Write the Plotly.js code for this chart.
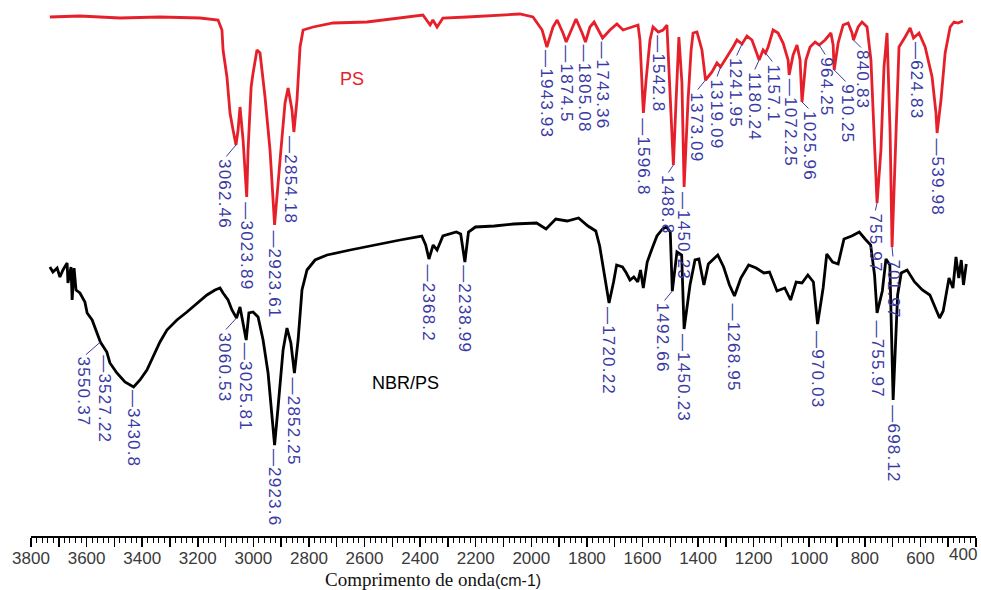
<!DOCTYPE html>
<html>
<head>
<meta charset="utf-8">
<script src="https://cdn.plot.ly/plotly-3.0.1.min.js"></script>
<style>
  html, body { margin: 0; padding: 0; background: #ffffff; }
  #chart { width: 981px; height: 590px; }
</style>
</head>
<body>
<div id="chart"></div>
<script>
// FTIR spectra (transmittance, arbitrary units, offset) of polystyrene (PS) and the NBR/PS blend

const psWavenumber = [
  3732, 3624, 3480, 3336, 3192, 3127, 3113, 3109, 3095, 3084,
  3073, 3062.46, 3055, 3048, 3037, 3023.89, 3019, 3008, 3001, 2987,
  2976, 2958, 2940, 2923.61, 2904, 2886, 2875, 2861, 2854.18, 2843,
  2832, 2821, 2785, 2713, 2591, 2472, 2390, 2364, 2354, 2339,
  2318, 2231, 2112, 2041, 1994, 1961, 1943.93, 1922, 1907, 1886,
  1874.5, 1853, 1839, 1817, 1805.08, 1789, 1774, 1753, 1743.36, 1717,
  1692, 1670, 1645, 1616, 1609, 1602, 1596.8, 1587, 1573, 1562,
  1542.8, 1526, 1512, 1508, 1497, 1488.8, 1479, 1469, 1458, 1450.23,
  1436, 1425, 1418, 1404, 1386, 1373.09, 1350, 1332, 1319.09, 1307,
  1292, 1274, 1260, 1241.95, 1224, 1206, 1184, 1180.24, 1166, 1157.1,
  1148, 1130, 1112, 1094, 1076, 1072.25, 1058, 1044, 1033, 1025.96,
  1012, 997, 979, 964.25, 943, 922, 914, 910.25, 896, 878,
  860, 846, 840.83, 824, 810, 792, 778, 767, 755.97, 742,
  731, 720, 709, 701.97, 688, 677, 655, 637, 624.83, 605,
  583, 558, 544, 539.98, 526, 511, 493, 479, 465, 447
];
const psSignal = [
  519, 520, 518, 519, 518, 516, 506, 486, 459, 423,
  406, 391, 406, 429, 396, 339, 386, 449, 463, 486,
  483, 439, 386, 311, 376, 433, 448, 426, 404, 436,
  489, 506, 509, 513, 514, 518, 521, 511, 516, 509,
  518, 519, 521, 522, 519, 506, 489, 509, 516, 503,
  494, 509, 517, 503, 494, 509, 514, 503, 498, 506,
  512, 506, 508, 511, 496, 456, 423, 456, 496, 509,
  504, 506, 511, 486, 416, 371, 436, 499, 453, 349,
  436, 486, 503, 504, 486, 456, 464, 473, 469, 474,
  481, 489, 496, 492, 500, 496, 478, 476, 486, 483,
  489, 506, 503, 493, 476, 461, 481, 491, 476, 434,
  476, 489, 494, 491, 496, 503, 491, 466, 493, 511,
  513, 503, 496, 509, 514, 509, 476, 406, 333, 386,
  469, 503, 403, 289, 403, 489, 499, 508, 498, 503,
  489, 459, 423, 403, 436, 483, 509, 514, 513, 515
];

const blendWavenumber = [
  3732, 3721, 3706, 3696, 3685, 3670, 3667, 3656, 3652, 3645,
  3638, 3624, 3606, 3598, 3580, 3570, 3550.37, 3527.22, 3516, 3491,
  3462, 3430.8, 3408, 3383, 3361, 3336, 3311, 3275, 3239, 3203,
  3167, 3138, 3120, 3109, 3091, 3077, 3060.53, 3048, 3037, 3025.81,
  3016, 3001, 2983, 2965, 2947, 2933, 2923.6, 2911, 2893, 2879,
  2865, 2852.25, 2839, 2825, 2807, 2778, 2735, 2652, 2534, 2472,
  2394, 2380, 2368.2, 2353, 2339, 2318, 2270, 2254, 2238.99, 2226,
  2201, 2133, 2064, 1981, 1947, 1912, 1871, 1830, 1796, 1768,
  1754, 1734, 1720.22, 1704, 1693, 1672, 1658, 1645, 1631, 1617,
  1607, 1597, 1583, 1566, 1548, 1528, 1514, 1500, 1492.66, 1476,
  1459, 1450.23, 1429, 1411, 1397, 1379, 1363, 1329, 1308, 1287,
  1268.95, 1246, 1218, 1191, 1163, 1143, 1116, 1088, 1067, 1047,
  1026, 1005, 985, 970.03, 950, 937, 916, 896, 875, 847,
  820, 799, 779, 765, 755.97, 737, 724, 710, 698.12, 682,
  669, 648, 621, 593, 566, 531, 518, 497, 483, 472,
  462, 453, 445, 435
];
const blendSignal = [
  269, 264, 268, 259, 266, 273, 253, 269, 236, 268,
  246, 243, 234, 223, 216, 208, 194, 184, 173, 163,
  154, 149, 156, 166, 179, 194, 206, 216, 224, 233,
  241, 246, 248, 243, 236, 226, 218, 229, 213, 196,
  223, 224, 219, 196, 163, 123, 91, 129, 186, 208,
  193, 163, 196, 246, 266, 276, 281, 286, 293, 296,
  300, 291, 277, 291, 286, 300, 304, 302, 274, 304,
  309, 310, 312, 313, 307, 317, 315, 318, 310, 305,
  290, 254, 233, 254, 271, 269, 263, 256, 259, 254,
  266, 248, 274, 287, 300, 307, 309, 304, 245, 284,
  281, 207, 251, 276, 277, 251, 272, 281, 269, 251,
  240, 258, 271, 268, 263, 264, 245, 248, 236, 254,
  253, 261, 254, 212, 248, 282, 274, 272, 297, 300,
  304, 297, 291, 261, 223, 245, 277, 271, 136, 241,
  263, 266, 254, 246, 241, 218, 225, 258, 248, 279,
  258, 276, 251, 272
];

// Marked band positions
const psPeaks = [
  3062.46, 3023.89, 2923.61, 2854.18, 1943.93, 1874.5, 1805.08, 1743.36,
  1596.8, 1542.8, 1488.8, 1450.23, 1373.09, 1319.09, 1241.95, 1180.24,
  1157.1, 1072.25, 1025.96, 964.25, 910.25, 840.83, 755.97, 701.97,
  624.83, 539.98
];
const blendPeaks = [
  3550.37, 3527.22, 3430.8, 3060.53, 3025.81, 2923.6, 2852.25, 2368.2,
  2238.99, 1720.22, 1492.66, 1450.23, 1268.95, 970.03, 755.97, 698.12
];

// Axis ticks (every 100 cm-1, labelled every 200 cm-1; the 400 label is set separately)
const tickValues = [
  3800, 3700, 3600, 3500, 3400, 3300, 3200, 3100, 3000, 2900, 2800, 2700,
  2600, 2500, 2400, 2300, 2200, 2100, 2000, 1900, 1800, 1700, 1600, 1500,
  1400, 1300, 1200, 1100, 1000, 900, 800, 700, 600, 500, 400
];
const tickLabels = [
  '3800', '', '3600', '', '3400', '', '3200', '', '3000', '', '2800', '',
  '2600', '', '2400', '', '2200', '', '2000', '', '1800', '', '1600', '',
  '1400', '', '1200', '', '1000', '', '800', '', '600', '', ''
];
const lastTickValue = 400;

// Label placement: [x offset px, gap below band px, bent leader?]
const psLabelPlacement = {
  3062.46: [-11, 12, true], 3023.89: [0, 3, false], 2923.61: [0, 3, false],
  2854.18: [-3, 2, false], 1943.93: [0, 1, false], 1874.5: [0, 1, false],
  1805.08: [0, 1, false], 1743.36: [0, 1, false], 1596.8: [0, 3, false],
  1542.8: [0, 1, false], 1488.8: [-6, 8, true], 1450.23: [0, 3, false],
  1373.09: [-9, 10, true], 1319.09: [-4, 10, true], 1241.95: [-6, 12, true],
  1180.24: [-5, 10, true], 1157.1: [8, 9, true], 1072.25: [2, 2, false],
  1025.96: [8, 7, true], 964.25: [7, 10, true], 910.25: [13, 12, true],
  840.83: [9, 8, true], 755.97: [-2, 8, true], 701.97: [1, 10, true],
  624.83: [3, 2, false], 539.98: [0, 3, false]
};
const blendLabelPlacement = {
  3550.37: [-16, 13, true], 3527.22: [-2, 1, false], 3430.8: [0, 1, false],
  3060.53: [-12, 12, true], 3025.81: [0, 1, false], 2923.6: [0, 2, false],
  2852.25: [0, 3, false], 2368.2: [0, 4, false], 2238.99: [0, 1, false],
  1720.22: [0, 2, false], 1492.66: [-9, 10, true], 1450.23: [0, 3, false],
  1268.95: [0, 6, false], 970.03: [0, 5, false], 755.97: [0, 5, false],
  698.12: [0, 3, false]
};

const RED = '#e6202a';
const LABEL_BLUE = '#3a3aa4';
const labelFont = { family: 'Liberation Sans, Arial, sans-serif', size: 17, color: LABEL_BLUE };
const tickFont = { family: 'Liberation Sans, Arial, sans-serif', size: 17, color: '#3a3a3a' };

function spaced(s) {
  return '<span style="letter-spacing:1.2px">' + s + '</span>';
}

function bandLabels(peaks, wn, sig, placement) {
  const out = [];
  peaks.forEach(p => {
    const y = sig[wn.indexOf(p)];
    const [dx, gap, bent] = placement[p];
    // rotated value, hanging below the band
    out.push({
      x: p, y: y, xref: 'x', yref: 'y',
      textangle: 90, xanchor: 'center', yanchor: 'top',
      xshift: dx, yshift: -gap, showarrow: false,
      text: spaced((bent ? '' : '\u2014') + String(p)),
      font: labelFont
    });
    if (bent) {
      // short slanted leader from the band to its value
      out.push({
        x: p, y: y, xref: 'x', yref: 'y', text: '',
        showarrow: true, arrowhead: 0, arrowwidth: 1, arrowcolor: LABEL_BLUE,
        axref: 'pixel', ayref: 'pixel', ax: dx, ay: gap + 1
      });
    }
  });
  return out;
}

const traces = [
  {
    x: blendWavenumber, y: blendSignal, type: 'scatter', mode: 'lines',
    name: 'NBR/PS', line: { color: '#000000', width: 2.8 }, hoverinfo: 'x+y'
  },
  {
    x: psWavenumber, y: psSignal, type: 'scatter', mode: 'lines',
    name: 'PS', line: { color: RED, width: 2.8 }, hoverinfo: 'x+y'
  }
];

const annotations = []
  .concat(bandLabels(psPeaks, psWavenumber, psSignal, psLabelPlacement))
  .concat(bandLabels(blendPeaks, blendWavenumber, blendSignal, blendLabelPlacement))
  .concat([
    {
      x: 2645, y: 457, xref: 'x', yref: 'y', showarrow: false,
      text: 'PS', font: { family: 'Liberation Sans, Arial, sans-serif', size: 18, color: RED }
    },
    {
      x: 2454, y: 153, xref: 'x', yref: 'y', showarrow: false,
      text: 'NBR/PS', font: { family: 'Liberation Sans, Arial, sans-serif', size: 18, color: '#000000' }
    },
    {
      // end-of-axis label kept inside the frame
      x: lastTickValue, y: 0, xref: 'x', yref: 'paper',
      xanchor: 'right', yanchor: 'middle', xshift: 3, yshift: -18,
      showarrow: false, text: String(lastTickValue), font: tickFont
    },
    {
      x: 0.4254, y: 0, xref: 'paper', yref: 'paper', yshift: -43,
      xanchor: 'center', yanchor: 'middle', showarrow: false,
      text: '<span style="font-family:Liberation Serif,Times New Roman,serif;font-size:19px">Comprimento de onda</span>' +
            '<span style="font-family:Liberation Sans,Arial,sans-serif;font-size:16px">(cm-1)</span>',
      font: { color: '#111111', size: 18 }
    }
  ]);

const layout = {
  width: 981, height: 590,
  margin: { l: 31, r: 5, t: 0, b: 54, pad: 0 },
  paper_bgcolor: '#ffffff', plot_bgcolor: '#ffffff',
  showlegend: false,
  xaxis: {
    range: [3800, 400], automargin: false,
    showgrid: false, zeroline: false,
    showline: true, linecolor: '#000000', linewidth: 2,
    ticks: 'outside', ticklen: 9, tickwidth: 1.5, tickcolor: '#000000',
    tickmode: 'array', tickvals: tickValues, ticktext: tickLabels,
    ticklabeloverflow: 'allow', ticklabelstandoff: -3,
    tickfont: tickFont,
    minor: { tickmode: 'linear', tick0: 400, dtick: 20, ticks: 'outside', ticklen: 5, tickwidth: 1, tickcolor: '#000000', showgrid: false }
  },
  yaxis: {
    range: [0, 536], visible: false, showgrid: false, zeroline: false, fixedrange: true
  },
  annotations: annotations
};

Plotly.newPlot('chart', traces, layout, { displayModeBar: false, staticPlot: true });
</script>
</body>
</html>
